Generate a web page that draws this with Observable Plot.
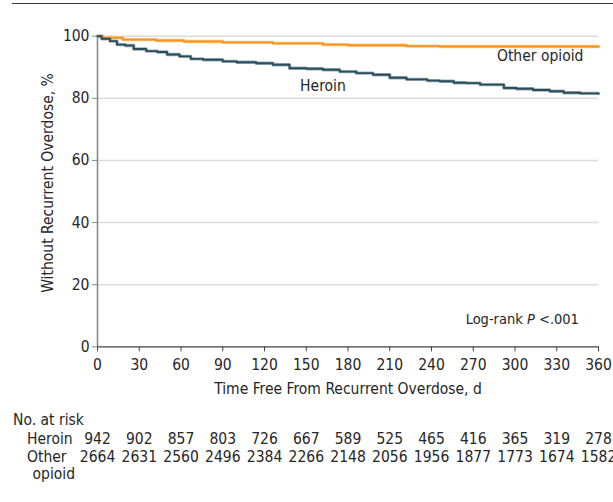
<!DOCTYPE html>
<html>
<head>
<meta charset="utf-8">
<script src="https://cdn.jsdelivr.net/npm/d3@7"></script>
<script src="https://cdn.jsdelivr.net/npm/@observablehq/plot@0.6"></script>
<style>
  html, body { margin: 0; padding: 0; background: #fff; overflow: hidden; }
  #wrap { position: relative; width: 613px; height: 502px; }
  #rule { position: absolute; left: 12px; right: 0; top: 3px; height: 0; border-top: 1.6px solid #3a3a3a; }
  #chart { position: absolute; left: 0; top: 0; }
</style>
</head>
<body>
<div id="wrap"><div id="rule"></div><div id="chart"></div></div>
<script>
// Kaplan-Meier estimates (day, % without recurrent overdose)
const heroinDays = [0, 3, 9, 14, 20, 26, 35, 43, 50, 59, 67, 76, 90, 100, 114, 126, 138, 150, 162, 174, 186, 198, 210, 222, 237, 246, 256, 265, 275, 292, 301, 313, 325, 335, 347, 360];
const heroinPct  = [100, 99.2, 98.4, 97.3, 97.0, 95.9, 95.2, 94.9, 94.1, 93.5, 92.7, 92.4, 91.9, 91.6, 91.3, 90.8, 89.7, 89.5, 89.2, 88.6, 88.1, 87.6, 86.6, 86.1, 85.7, 85.5, 85.0, 84.9, 84.4, 83.3, 83.1, 82.7, 82.3, 81.8, 81.6, 81.5];
const otherDays = [0, 4, 18, 42, 62, 90, 126, 162, 180, 198, 222, 246, 294, 330, 360];
const otherPct  = [100, 99.5, 98.9, 98.6, 98.3, 98.0, 97.7, 97.3, 97.1, 97.1, 96.8, 96.7, 96.7, 96.7, 96.6];

const xTicks = [0, 30, 60, 90, 120, 150, 180, 210, 240, 270, 300, 330, 360];
const yTicks = [0, 20, 40, 60, 80, 100];

// Number at risk
const riskDays = [0, 30, 60, 90, 120, 150, 180, 210, 240, 270, 300, 330, 360];
const riskHeroin = [942, 902, 857, 803, 726, 667, 589, 525, 465, 416, 365, 319, 278];
const riskOther = [2664, 2631, 2560, 2496, 2384, 2266, 2148, 2056, 1956, 1877, 1773, 1674, 1582];

const heroin = heroinDays.map((d, i) => ({day: d, pct: heroinPct[i]}));
const other = otherDays.map((d, i) => ({day: d, pct: otherPct[i]}));
const riskH = riskDays.map((d, i) => ({day: d, n: String(riskHeroin[i])}));
const riskO = riskDays.map((d, i) => ({day: d, n: String(riskOther[i])}));

const heroinColor = "#2b4d5c";
const otherColor = "#f7941d";
const textColor = "#262626";
const fs = 15.5;
const base = 346.3; // pixel row of the x axis

const plot = Plot.plot({
  width: 613,
  height: 502,
  marginLeft: 97,
  marginRight: 15,
  marginTop: 35.7,
  marginBottom: 155.7,
  x: {domain: [0, 360]},
  y: {domain: [0, 100]},
  style: {fontFamily: "'DejaVu Sans Condensed', 'DejaVu Sans', sans-serif", fontSize: fs + "px", color: textColor, background: "transparent", overflow: "hidden"},
  marks: [
    Plot.gridY(yTicks.filter(d => d > 0), {stroke: "#dcdcdc", strokeOpacity: 1, strokeWidth: 1.5}),
    Plot.ruleX([0], {stroke: "#8a8a8a", strokeWidth: 1.6}),
    Plot.ruleY([0], {stroke: "#444", strokeWidth: 1.2}),
    Plot.axisX(xTicks, {tickSize: 5, tickPadding: 7, label: null, stroke: "#444", fill: textColor, tickFormat: d => String(d)}),
    Plot.axisY(yTicks, {tickSize: 5, tickPadding: 3, label: null, stroke: "#8a8a8a", fill: textColor, tickFormat: d => String(d)}),
    // light halos
    Plot.line(other, {x: "day", y: "pct", curve: "step-after", stroke: "#fbc98c", strokeWidth: 3.4}),
    Plot.line(heroin, {x: "day", y: "pct", curve: "step-after", stroke: "#9db1ba", strokeWidth: 3.4}),
    Plot.line(other, {x: "day", y: "pct", curve: "step-after", stroke: otherColor, strokeWidth: 1.9}),
    Plot.line(heroin, {x: "day", y: "pct", curve: "step-after", stroke: heroinColor, strokeWidth: 1.9}),
    // series labels
    Plot.text(["Heroin"], {x: 162, y: 82.5, text: d => d, textAnchor: "middle", lineAnchor: "bottom", fill: textColor}),
    Plot.text(["Other opioid"], {x: 349.2, y: 92.1, text: d => d, textAnchor: "end", lineAnchor: "bottom", fill: textColor}),
    // x axis title
    Plot.text(["Time Free From Recurrent Overdose, d"], {frameAnchor: "bottom", dy: 393 - base, lineAnchor: "bottom", text: d => d, fill: textColor}),
    // y axis title
    Plot.text(["Without Recurrent Overdose, %"], {frameAnchor: "left", dx: -45, dy: -8.5, rotate: -90, textAnchor: "middle", lineAnchor: "bottom", text: d => d, fill: textColor}),
    // risk table
    Plot.text(["No. at risk"], {frameAnchor: "bottom-left", dx: 12.5 - 97, dy: 424 - base, textAnchor: "start", lineAnchor: "bottom", text: d => d, fill: textColor}),
    Plot.text(["Heroin"], {frameAnchor: "bottom-left", dx: 26.5 - 97, dy: 443.3 - base, textAnchor: "start", lineAnchor: "bottom", text: d => d, fill: textColor}),
    Plot.text(["Other"], {frameAnchor: "bottom-left", dx: 26.5 - 97, dy: 461.7 - base, textAnchor: "start", lineAnchor: "bottom", text: d => d, fill: textColor}),
    Plot.text(["opioid"], {frameAnchor: "bottom-left", dx: 32 - 97, dy: 478.5 - base, textAnchor: "start", lineAnchor: "bottom", text: d => d, fill: textColor}),
    Plot.text(riskH, {x: "day", frameAnchor: "bottom", dy: 443.3 - base, text: "n", textAnchor: "middle", lineAnchor: "bottom", fill: textColor}),
    Plot.text(riskO, {x: "day", frameAnchor: "bottom", dy: 461.7 - base, text: "n", textAnchor: "middle", lineAnchor: "bottom", fill: textColor})
  ]
});

// Log-rank annotation with italic P
const svg = d3.select(plot);
const xs = plot.scale("x");
const t = svg.append("text")
  .attr("x", xs.apply(346.3)).attr("y", 324)
  .attr("fill", textColor)
  .attr("font-size", "14.5px")
  .attr("text-anchor", "end");
t.append("tspan").text("Log-rank ");
t.append("tspan").attr("font-style", "italic").text("P");
t.append("tspan").text(" <.001");

document.getElementById("chart").appendChild(plot);
</script>
</body>
</html>
